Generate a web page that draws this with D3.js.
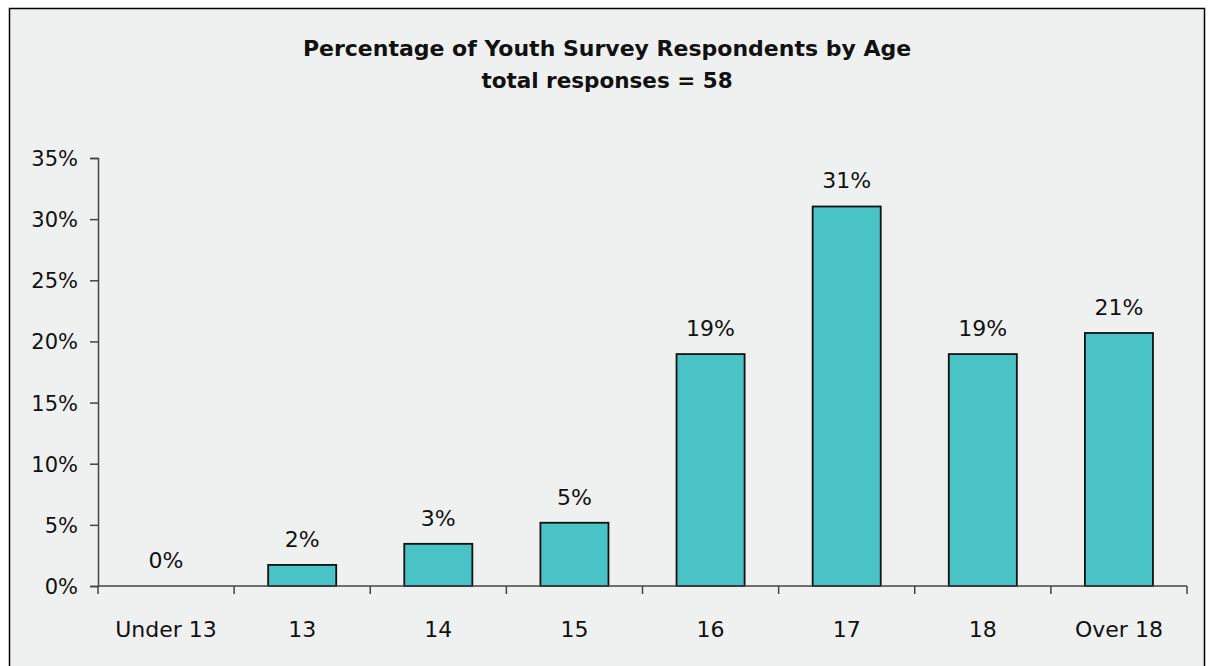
<!DOCTYPE html>
<html>
<head>
<meta charset="utf-8">
<script src="https://cdn.jsdelivr.net/npm/d3@7"></script>
<style>
  html, body { margin: 0; padding: 0; background: #ffffff; }
  svg { display: block; }
  text { font-family: "DejaVu Sans", sans-serif; fill: #111; }
</style>
</head>
<body>
<svg id="chart" width="1212" height="666"></svg>
<script>
const categories = ["Under 13", "13", "14", "15", "16", "17", "18", "Over 18"];
const counts = [0, 1, 2, 3, 11, 18, 11, 12];
const totalResponses = 58;
const percents = counts.map(c => c / totalResponses * 100);
const yTicks = [0, 5, 10, 15, 20, 25, 30, 35];
const titleLines = ["Percentage of Youth Survey Respondents by Age", "total responses = 58"];

const svg = d3.select("#chart");

// outer chart area
svg.append("rect")
  .attr("x", 9.5).attr("y", 8.5)
  .attr("width", 1195).attr("height", 680)
  .attr("fill", "#eff0f0")
  .attr("stroke", "#000").attr("stroke-width", 1.5);

// title
svg.append("text")
  .attr("x", 607).attr("y", 56)
  .attr("text-anchor", "middle")
  .attr("font-size", 22).attr("font-weight", "bold")
  .text(titleLines[0]);
svg.append("text")
  .attr("x", 607).attr("y", 88)
  .attr("text-anchor", "middle")
  .attr("font-size", 21.5).attr("font-weight", "bold")
  .text(titleLines[1]);

const mLeft = 98, mRight = 1187, mTop = 158, mBottom = 586;

const x = d3.scaleBand().domain(categories).range([mLeft, mRight]).paddingInner(0.5).paddingOuter(0.25);
const xb = d3.scaleBand().domain(categories).range([mLeft, mRight]);
const y = d3.scaleLinear().domain([0, 35]).range([mBottom, mTop]);

// bars
svg.append("g").selectAll("rect")
  .data(categories.filter((c, i) => percents[i] > 0))
  .join("rect")
  .attr("x", d => x(d))
  .attr("width", x.bandwidth())
  .attr("y", d => y(percents[categories.indexOf(d)]))
  .attr("height", d => y(0) - y(percents[categories.indexOf(d)]))
  .attr("fill", "#4ac3c7")
  .attr("stroke", "#111").attr("stroke-width", 1.8);

// y axis
const yAxis = svg.append("g")
  .attr("transform", `translate(${mLeft},0)`)
  .call(d3.axisLeft(y).tickValues(yTicks).tickFormat(d => d + "%").tickSizeOuter(0).tickSize(8).tickPadding(12));
yAxis.select(".domain").attr("stroke", "#444").attr("stroke-width", 1.5);
yAxis.selectAll(".tick line").attr("stroke", "#444").attr("stroke-width", 1.5);
yAxis.selectAll(".tick text").attr("font-size", 21).attr("font-family", "DejaVu Sans, sans-serif").attr("fill", "#111").attr("dy", "0.36em");

// x axis: ticks at band boundaries
const xAxisG = svg.append("g").attr("transform", `translate(0,${mBottom})`);
xAxisG.append("line")
  .attr("x1", mLeft).attr("x2", mRight).attr("y1", 0).attr("y2", 0)
  .attr("stroke", "#444").attr("stroke-width", 1.5);
const boundaries = categories.map(c => xb(c)).concat([mRight]);
xAxisG.selectAll("line.tk").data(boundaries).join("line")
  .attr("class", "tk")
  .attr("x1", d => d).attr("x2", d => d)
  .attr("y1", 0).attr("y2", 8)
  .attr("stroke", "#444").attr("stroke-width", 1.5);
xAxisG.selectAll("text").data(categories).join("text")
  .attr("x", d => xb(d) + xb.bandwidth() / 2)
  .attr("y", 51)
  .attr("text-anchor", "middle")
  .attr("font-size", 22)
  .text(d => d);

// data labels
svg.append("g").selectAll("text")
  .data(categories)
  .join("text")
  .attr("x", d => x(d) + x.bandwidth() / 2)
  .attr("y", (d, i) => y(percents[i]) - 18)
  .attr("text-anchor", "middle")
  .attr("font-size", 22)
  .text((d, i) => Math.round(percents[i]) + "%");
</script>
</body>
</html>
